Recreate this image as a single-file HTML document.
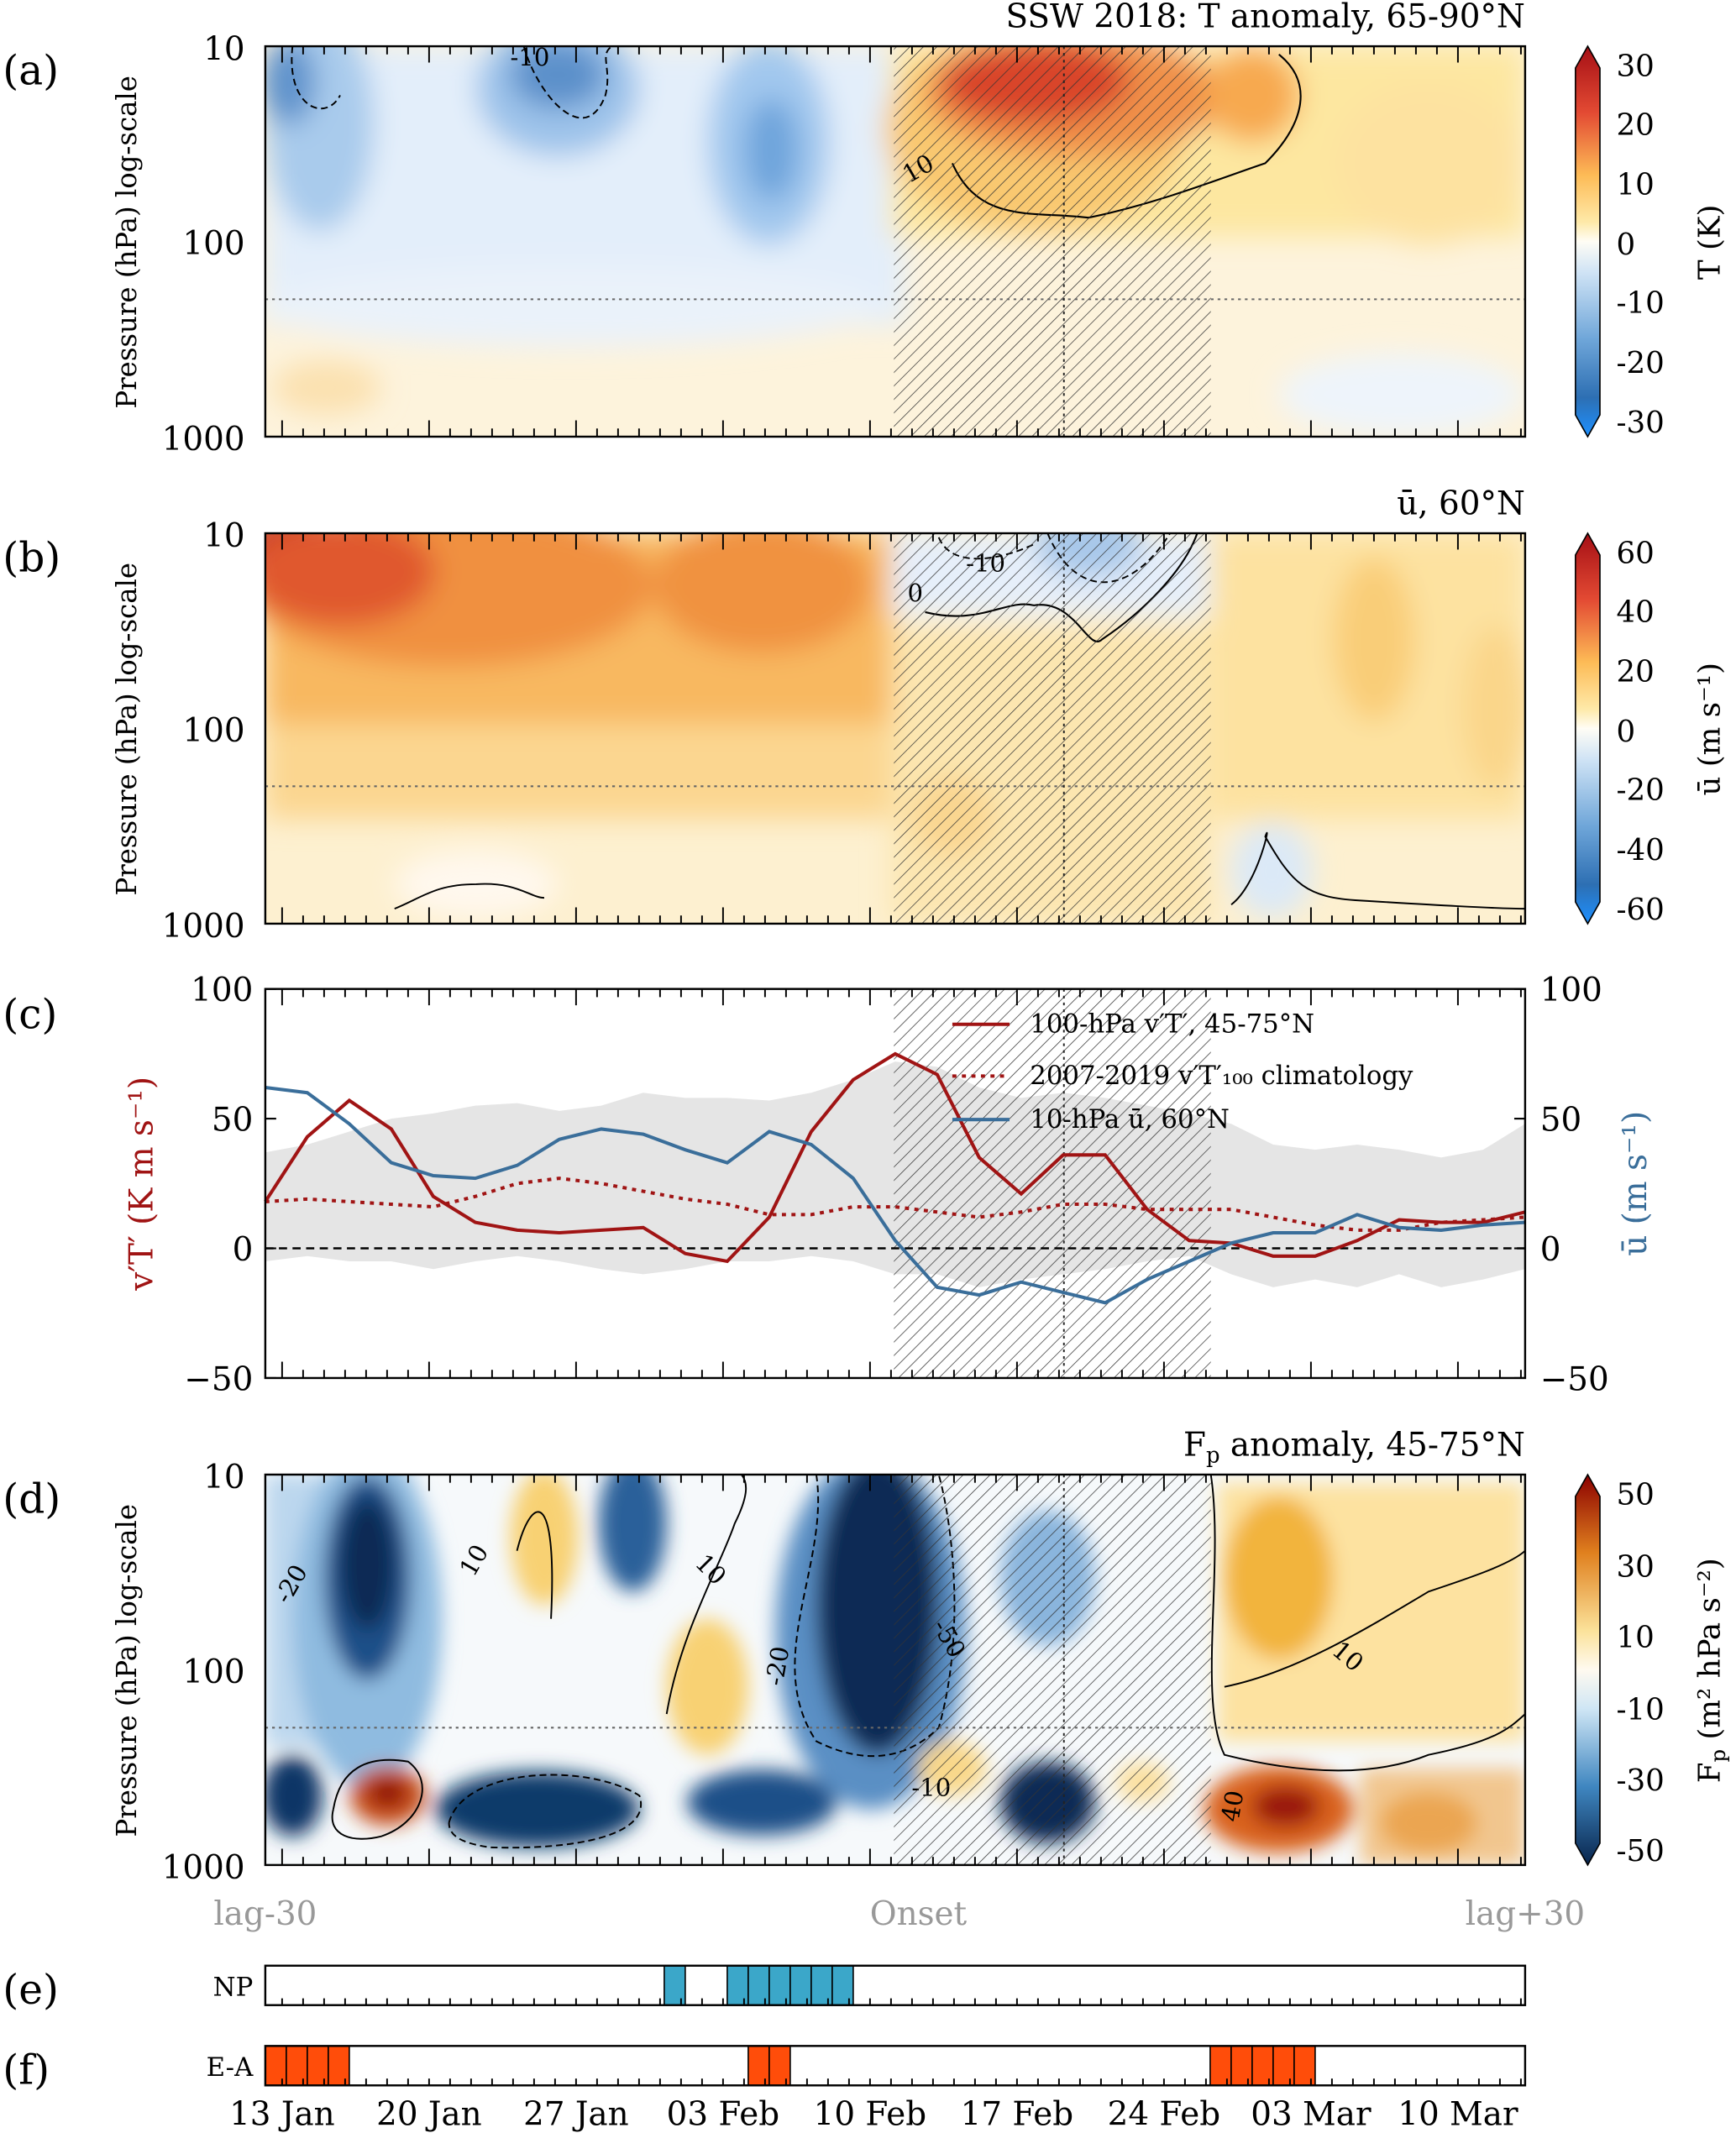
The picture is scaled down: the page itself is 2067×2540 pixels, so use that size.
<!DOCTYPE html>
<html><head><meta charset="utf-8"><style>
html,body{margin:0;padding:0;background:#fff}
svg{display:block}
text{font-family:"DejaVu Serif","Liberation Serif",serif}
</style></head><body>
<svg id="fig" width="2067" height="2540" viewBox="0 0 1276 1568" xmlns="http://www.w3.org/2000/svg">
<defs>
<pattern id="hatch" width="7" height="7" patternUnits="userSpaceOnUse" patternTransform="rotate(45)">
<line x1="0" y1="0" x2="0" y2="7" stroke="#333" stroke-width="0.9"/>
</pattern>
<filter id="blur" x="-50%" y="-50%" width="200%" height="200%"><feGaussianBlur stdDeviation="10"/></filter>
<filter id="blur2" x="-50%" y="-50%" width="200%" height="200%"><feGaussianBlur stdDeviation="7"/></filter>
<clipPath id="ca"><rect x="195" y="34" width="926" height="287"/></clipPath>
<clipPath id="cb"><rect x="195" y="392" width="926" height="287"/></clipPath>
<clipPath id="cd"><rect x="195" y="1084" width="926" height="287"/></clipPath>
<linearGradient id="gT" x1="0" y1="0" x2="0" y2="1">
<stop offset="0" stop-color="#a50f15"/><stop offset="0.17" stop-color="#e34a33"/><stop offset="0.33" stop-color="#fdbb56"/><stop offset="0.45" stop-color="#fee9a8"/><stop offset="0.5" stop-color="#fffdf5"/><stop offset="0.58" stop-color="#cfe3f5"/><stop offset="0.75" stop-color="#6fa6d9"/><stop offset="0.9" stop-color="#2d6fb3"/><stop offset="1" stop-color="#1e90ff"/>
</linearGradient>
<linearGradient id="gF" x1="0" y1="0" x2="0" y2="1">
<stop offset="0" stop-color="#8b0000"/><stop offset="0.2" stop-color="#e0801e"/><stop offset="0.4" stop-color="#fbe29a"/><stop offset="0.5" stop-color="#fffaf0"/><stop offset="0.6" stop-color="#cfe6f5"/><stop offset="0.8" stop-color="#3f86c0"/><stop offset="1" stop-color="#08254d"/>
</linearGradient>
</defs>

<!-- ========== Panel (a) ========== -->
<g>
<text x="2" y="62" font-size="30">(a)</text>
<text x="1121" y="20" font-size="24" text-anchor="end">SSW 2018: T anomaly, 65-90°N</text>
<g clip-path="url(#ca)">
<rect x="195" y="34" width="926" height="287" fill="#fdf3dc"/>
<g filter="url(#blur)">
<rect x="195" y="34" width="470" height="205" fill="#e3eefa"/>
<ellipse cx="420" cy="225" rx="230" ry="30" fill="#eaf2fa"/>
<ellipse cx="235" cy="90" rx="40" ry="80" fill="#a9cbec"/>
<ellipse cx="212" cy="60" rx="20" ry="32" fill="#5f93cc"/>
<ellipse cx="410" cy="65" rx="60" ry="50" fill="#9dc3ea"/>
<ellipse cx="410" cy="55" rx="35" ry="25" fill="#5c90ca"/>
<ellipse cx="565" cy="105" rx="45" ry="75" fill="#a2c8ee"/>
<ellipse cx="567" cy="110" rx="20" ry="38" fill="#6ea4dc"/>
<rect x="655" y="34" width="466" height="140" fill="#fde7a0"/>
<ellipse cx="760" cy="95" rx="110" ry="75" fill="#f9c870"/>
<ellipse cx="790" cy="70" rx="110" ry="45" fill="#f0904a"/>
<ellipse cx="760" cy="60" rx="70" ry="30" fill="#d9452b"/>
<ellipse cx="920" cy="70" rx="35" ry="35" fill="#f7a950"/>
<ellipse cx="1050" cy="120" rx="70" ry="60" fill="#fde2a0"/>
<ellipse cx="1030" cy="290" rx="90" ry="30" fill="#eef4fb"/>
<ellipse cx="240" cy="285" rx="40" ry="20" fill="#fbe1b0"/>
</g>
<path d="M700,120 C720,165 760,155 800,160 C850,150 900,130 930,120 C960,90 965,60 940,40" fill="none" stroke="#000" stroke-width="1.3"/>
<path d="M385,34 C395,70 430,110 445,70 C450,50 440,40 450,34" fill="none" stroke="#000" stroke-width="1.2" stroke-dasharray="5,3"/>
<path d="M215,34 C210,80 240,90 250,70" fill="none" stroke="#000" stroke-width="1.2" stroke-dasharray="5,3"/>
<text x="668" y="135" font-size="18" transform="rotate(-30 668 135)">10</text>
<text x="375" y="48" font-size="18">-10</text>
<rect x="657" y="34" width="233" height="287" fill="url(#hatch)"/>
</g>
<line x1="195" y1="220" x2="1121" y2="220" stroke="#666" stroke-width="1.3" stroke-dasharray="2,3"/>
<line x1="782" y1="34" x2="782" y2="321" stroke="#222" stroke-width="1.2" stroke-dasharray="2,3"/>
<rect x="195" y="34" width="926" height="287" fill="none" stroke="#000" stroke-width="1.5"/>
<g font-size="24" text-anchor="end">
<text x="180" y="44">10</text><text x="180" y="187">100</text><text x="180" y="331">1000</text></g>
<text x="100" y="178" font-size="20" text-anchor="middle" transform="rotate(-90 100 178)">Pressure (hPa) log-scale</text>
<g>
<path d="M1158,50 L1167,34 L1176,50 L1176,305 L1167,321 L1158,305 Z" fill="url(#gT)" stroke="#000" stroke-width="1"/>
<g font-size="22"><text x="1188" y="56">30</text><text x="1188" y="99">20</text><text x="1188" y="143">10</text><text x="1188" y="187">0</text><text x="1188" y="230">-10</text><text x="1188" y="274">-20</text><text x="1188" y="318">-30</text></g>
<text x="1264" y="178" font-size="22" text-anchor="middle" transform="rotate(-90 1264 178)">T (K)</text>
</g>
</g>

<!-- ========== Panel (b) ========== -->
<g>
<text x="2" y="420" font-size="30">(b)</text>
<text x="1121" y="378" font-size="24" text-anchor="end">ū, 60°N</text>
<g clip-path="url(#cb)">
<rect x="195" y="392" width="926" height="287" fill="#fdf0d0"/>
<g filter="url(#blur)">
<rect x="195" y="392" width="460" height="210" fill="#fbd690"/>
<rect x="195" y="392" width="460" height="140" fill="#f8b860"/>
<ellipse cx="330" cy="430" rx="150" ry="60" fill="#f0903f"/>
<ellipse cx="560" cy="430" rx="80" ry="50" fill="#f0923f"/>
<ellipse cx="215" cy="405" rx="40" ry="30" fill="#b8201a"/>
<ellipse cx="250" cy="420" rx="70" ry="40" fill="#e0582f"/>
<rect x="655" y="392" width="235" height="60" fill="#e6effa"/>
<ellipse cx="800" cy="400" rx="40" ry="25" fill="#a8c8ea"/>
<rect x="655" y="460" width="235" height="219" fill="#fce6b0"/>
<ellipse cx="700" cy="600" rx="30" ry="30" fill="#fad690"/>
<rect x="890" y="392" width="231" height="210" fill="#fde2a0"/>
<ellipse cx="1010" cy="470" rx="30" ry="60" fill="#f9cd78"/>
<ellipse cx="1100" cy="520" rx="25" ry="60" fill="#fad68a"/>
<ellipse cx="350" cy="650" rx="60" ry="25" fill="#fff8ee"/>
<ellipse cx="935" cy="640" rx="30" ry="35" fill="#dbe9f7"/>
</g>
<path d="M680,450 C720,460 740,440 760,445 C790,440 800,480 810,470 C840,450 870,420 880,392" fill="none" stroke="#000" stroke-width="1.3"/>
<path d="M690,395 C700,420 740,410 760,400 M770,392 C790,440 830,440 860,392" fill="none" stroke="#000" stroke-width="1.2" stroke-dasharray="5,3"/>
<path d="M290,668 C310,660 320,650 350,650 C380,648 390,660 400,660" fill="none" stroke="#000" stroke-width="1.2"/>
<path d="M905,665 C925,650 935,600 930,615 C950,650 960,660 1000,662 C1050,665 1100,668 1121,668" fill="none" stroke="#000" stroke-width="1.2"/>
<text x="667" y="442" font-size="18">0</text><text x="710" y="420" font-size="18">-10</text>
<rect x="657" y="392" width="233" height="287" fill="url(#hatch)"/>
</g>
<line x1="195" y1="578" x2="1121" y2="578" stroke="#666" stroke-width="1.3" stroke-dasharray="2,3"/>
<line x1="782" y1="392" x2="782" y2="679" stroke="#222" stroke-width="1.2" stroke-dasharray="2,3"/>
<rect x="195" y="392" width="926" height="287" fill="none" stroke="#000" stroke-width="1.5"/>
<g font-size="24" text-anchor="end">
<text x="180" y="402">10</text><text x="180" y="545">100</text><text x="180" y="689">1000</text></g>
<text x="100" y="536" font-size="20" text-anchor="middle" transform="rotate(-90 100 536)">Pressure (hPa) log-scale</text>
<g>
<path d="M1158,408 L1167,392 L1176,408 L1176,663 L1167,679 L1158,663 Z" fill="url(#gT)" stroke="#000" stroke-width="1"/>
<g font-size="22"><text x="1188" y="414">60</text><text x="1188" y="457">40</text><text x="1188" y="501">20</text><text x="1188" y="545">0</text><text x="1188" y="588">-20</text><text x="1188" y="632">-40</text><text x="1188" y="676">-60</text></g>
<text x="1264" y="536" font-size="22" text-anchor="middle" transform="rotate(-90 1264 536)">ū (m s⁻¹)</text>
</g>
</g>

<!-- ========== Panel (c) ========== -->
<g id="panelC">
<text x="2" y="756" font-size="30">(c)</text>
</g>

<!-- ========== Panel (d) ========== -->
<g>
<text x="2" y="1112" font-size="30">(d)</text>
<text x="1121" y="1070" font-size="24" text-anchor="end">F<tspan font-size="16" dy="5">p</tspan><tspan dy="-5"> anomaly, 45-75°N</tspan></text>
<g clip-path="url(#cd)">
<rect x="195" y="1084" width="926" height="287" fill="#f6f9fb"/>
<g filter="url(#blur2)">
<rect x="195" y="1084" width="110" height="200" fill="#bcd7ee"/>
<ellipse cx="270" cy="1190" rx="55" ry="125" fill="#8fbbe0"/>
<ellipse cx="270" cy="1160" rx="32" ry="75" fill="#1d4f88"/>
<ellipse cx="270" cy="1150" rx="20" ry="48" fill="#0b2a55"/>
<ellipse cx="215" cy="1320" rx="22" ry="30" fill="#0e3666"/>
<ellipse cx="285" cy="1320" rx="28" ry="22" fill="#c8501e"/>
<ellipse cx="285" cy="1318" rx="14" ry="10" fill="#8b0000"/>
<ellipse cx="395" cy="1330" rx="75" ry="28" fill="#0f3a6a"/>
<ellipse cx="560" cy="1325" rx="55" ry="24" fill="#1d4f88"/>
<ellipse cx="400" cy="1130" rx="25" ry="50" fill="#f8d173"/>
<ellipse cx="465" cy="1120" rx="25" ry="50" fill="#2a609a"/>
<ellipse cx="520" cy="1240" rx="30" ry="50" fill="#f8d173"/>
<ellipse cx="640" cy="1200" rx="70" ry="130" fill="#5a8fc4"/>
<ellipse cx="645" cy="1180" rx="45" ry="110" fill="#0b2a55"/>
<ellipse cx="770" cy="1160" rx="35" ry="50" fill="#8ab5dd"/>
<ellipse cx="770" cy="1325" rx="35" ry="30" fill="#0b2a55"/>
<ellipse cx="700" cy="1300" rx="25" ry="20" fill="#f9d88a"/>
<ellipse cx="840" cy="1310" rx="20" ry="15" fill="#fbe0a0"/>
<rect x="895" y="1090" width="226" height="190" fill="#fde2a0"/>
<ellipse cx="940" cy="1160" rx="40" ry="60" fill="#f2b43c"/>
<ellipse cx="940" cy="1330" rx="55" ry="32" fill="#d9621c"/>
<ellipse cx="945" cy="1328" rx="25" ry="15" fill="#9a1208"/>
<ellipse cx="1050" cy="1340" rx="35" ry="22" fill="#e08a30"/>
<rect x="1000" y="1300" width="121" height="71" fill="#f0b060" opacity="0.7"/>
</g>
<path d="M600,1084 C610,1150 560,1220 600,1280 C640,1300 670,1290 690,1270 C710,1200 700,1120 690,1084" fill="none" stroke="#000" stroke-width="1.2" stroke-dasharray="5,3"/>
<path d="M890,1084 C900,1150 880,1250 900,1290 C940,1300 1000,1310 1050,1290 C1100,1280 1110,1270 1121,1260" fill="none" stroke="#000" stroke-width="1.2"/>
<path d="M245,1330 C250,1300 270,1290 300,1295 C320,1310 310,1340 280,1350 C260,1355 240,1350 245,1330" fill="none" stroke="#000" stroke-width="1.2"/>
<path d="M330,1340 C340,1300 430,1295 470,1320 C480,1350 420,1360 360,1358 C340,1355 330,1350 330,1340" fill="none" stroke="#000" stroke-width="1.2" stroke-dasharray="5,3"/>
<path d="M380,1140 C390,1100 410,1090 405,1190" fill="none" stroke="#000" stroke-width="1.2"/>
<path d="M490,1260 C500,1200 530,1150 540,1120 C550,1100 550,1090 545,1084" fill="none" stroke="#000" stroke-width="1.2"/>
<path d="M900,1240 C950,1230 1000,1200 1050,1170 C1080,1160 1110,1150 1121,1140" fill="none" stroke="#000" stroke-width="1.2"/>
<g font-size="18"><text x="212" y="1180" transform="rotate(-60 212 1180)">-20</text><text x="348" y="1160" transform="rotate(-60 348 1160)">10</text><text x="510" y="1150" transform="rotate(45 510 1150)">10</text><text x="575" y="1240" transform="rotate(-80 575 1240)">-20</text><text x="685" y="1195" transform="rotate(60 685 1195)">-50</text><text x="978" y="1215" transform="rotate(40 978 1215)">10</text><text x="910" y="1340" transform="rotate(-80 910 1340)">40</text><text x="670" y="1320">-10</text></g>
<rect x="657" y="1084" width="233" height="287" fill="url(#hatch)"/>
</g>
<line x1="195" y1="1270" x2="1121" y2="1270" stroke="#666" stroke-width="1.3" stroke-dasharray="2,3"/>
<line x1="782" y1="1084" x2="782" y2="1371" stroke="#222" stroke-width="1.2" stroke-dasharray="2,3"/>
<rect x="195" y="1084" width="926" height="287" fill="none" stroke="#000" stroke-width="1.5"/>
<g font-size="24" text-anchor="end">
<text x="180" y="1094">10</text><text x="180" y="1237">100</text><text x="180" y="1381">1000</text></g>
<text x="100" y="1228" font-size="20" text-anchor="middle" transform="rotate(-90 100 1228)">Pressure (hPa) log-scale</text>
<g>
<path d="M1158,1100 L1167,1084 L1176,1100 L1176,1355 L1167,1371 L1158,1355 Z" fill="url(#gF)" stroke="#000" stroke-width="1"/>
<g font-size="22"><text x="1188" y="1106">50</text><text x="1188" y="1159">30</text><text x="1188" y="1211">10</text><text x="1188" y="1264">-10</text><text x="1188" y="1316">-30</text><text x="1188" y="1368">-50</text></g>
<text x="1264" y="1228" font-size="22" text-anchor="middle" transform="rotate(-90 1264 1228)">F<tspan font-size="15" dy="4">p</tspan><tspan dy="-4"> (m² hPa s⁻²)</tspan></text>
</g>
<g font-size="24" fill="#999" text-anchor="middle">
<text x="195" y="1415">lag-30</text><text x="675" y="1415">Onset</text><text x="1121" y="1415">lag+30</text></g>
</g>

<!-- ========== Panels (e),(f) ========== -->
<g id="panelEF">
<text x="2" y="1473" font-size="30">(e)</text>
<text x="2" y="1532" font-size="30">(f)</text>
<text x="186" y="1467" font-size="19" text-anchor="end">NP</text>
<text x="186" y="1526" font-size="19" text-anchor="end">E-A</text>
</g>
</svg>

<script>
// Time axis: lag days -30..30, every 2 days
const lags = [-30,-28,-26,-24,-22,-20,-18,-16,-14,-12,-10,-8,-6,-4,-2,0,2,4,6,8,10,12,14,16,18,20,22,24,26,28,30];
const vT = [18,43,57,46,20,10,7,6,7,8,-2,-5,12,45,65,75,67,35,21,36,36,15,3,2,-3,-3,3,11,10,10,14];
const uWind = [62,60,48,33,28,27,32,42,46,44,38,33,45,40,27,3,-15,-18,-13,-17,-21,-12,-5,2,6,6,13,8,7,9,10];
const vTclim = [18,19,18,17,16,20,25,27,25,22,19,17,13,13,16,16,14,12,14,17,17,15,15,15,12,9,7,7,10,11,12];
const climUpper = [37,40,45,50,52,55,56,53,55,60,58,58,57,60,65,72,70,62,58,60,58,55,52,48,40,38,40,38,35,38,48];
const climLower = [-5,-3,-5,-5,-8,-5,-3,-5,-8,-10,-8,-5,-5,-3,-5,-10,-10,-15,-12,-10,-8,-5,-3,-10,-15,-12,-15,-10,-15,-12,-8];
const yTicks = [100,50,0,-50];
const dateLabels = ["13 Jan","20 Jan","27 Jan","03 Feb","10 Feb","17 Feb","24 Feb","03 Mar","10 Mar"];
const dateLags = [-29.2,-22.2,-15.2,-8.2,-1.2,5.8,12.8,19.8,26.8];
// Regime days (lag index of each day box)
const npDays = [-11,-8,-7,-6,-5,-4,-3];
const eaDays = [-30,-29,-28,-27,-7,-6,15,16,17,18,19];

const NS="http://www.w3.org/2000/svg";
const X0=195,X1=1121;
function xs(l){return X0+(l+30)/60*(X1-X0);}
const CT=727,CB=1013;
function ys(v){return CB-(v+50)/150*(CB-CT);}
function mk(tag,attrs,parent){const e=document.createElementNS(NS,tag);for(const k in attrs)e.setAttribute(k,attrs[k]);parent.appendChild(e);return e;}
const pc=document.getElementById('panelC');

let d="M"+lags.map((l,i)=>xs(l)+","+ys(climUpper[i])).join(" L");
for(let i=lags.length-1;i>=0;i--)d+=" L"+xs(lags[i])+","+ys(climLower[i]);
const band=mk('path',{d:d+"Z",fill:"#e5e5e5"},pc);


const hat=mk('rect',{x:657,y:CT,width:233,height:CB-CT,fill:"url(#hatch)"},pc);


mk('line',{x1:X0,x2:X1,y1:ys(0),y2:ys(0),stroke:"#000","stroke-width":1.5,"stroke-dasharray":"6,4"},pc);
mk('line',{x1:782,x2:782,y1:CT,y2:CB,stroke:"#222","stroke-width":1.2,"stroke-dasharray":"2,3"},pc);
function line(arr,color,dash,name){
  const p=mk('path',{d:"M"+lags.map((l,i)=>xs(l)+","+ys(arr[i])).join(" L"),fill:"none",stroke:color,"stroke-width":2.5},pc);
  if(dash)p.setAttribute('stroke-dasharray',dash);
  
  
}
line(vTclim,"#a01414","3,4","vt-climatology-line");
line(vT,"#a01414",null,"vt-100hpa-line");
line(uWind,"#3a6e9a",null,"u-10hpa-line");
const fr=mk('rect',{x:X0,y:CT,width:X1-X0,height:CB-CT,fill:"none",stroke:"#000","stroke-width":1.5},pc);


yTicks.forEach(v=>{
  const t=mk('text',{x:186,y:ys(v)+9,"font-size":24,"text-anchor":"end"},pc);t.textContent=v<0?"\u2212"+(-v):v;
  
  
  const t2=mk('text',{x:1132,y:ys(v)+9,"font-size":24},pc);t2.textContent=v<0?"\u2212"+(-v):v;
  
  
  mk('line',{x1:X0,x2:X0+8,y1:ys(v),y2:ys(v),stroke:"#000","stroke-width":1.3},pc);
  mk('line',{x1:X1-8,x2:X1,y1:ys(v),y2:ys(v),stroke:"#000","stroke-width":1.3},pc);
});
let yt=mk('text',{x:112,y:870,"font-size":24,"text-anchor":"middle",fill:"#a01414",transform:"rotate(-90 112 870)"},pc);
yt.textContent="v\u2032T\u2032 (K m s\u207B\u00B9)";


yt=mk('text',{x:1210,y:870,"font-size":24,"text-anchor":"middle",fill:"#3a6e9a",transform:"rotate(-90 1210 870)"},pc);
yt.textContent="\u016B (m s\u207B\u00B9)";


const leg=mk('g',{},pc);


[["#a01414",null,"100-hPa v\u2032T\u2032, 45-75\u00B0N",759],["#a01414","3,4","2007-2019 v\u2032T\u2032\u2081\u2080\u2080 climatology",797],["#3a6e9a",null,"10-hPa \u016B, 60\u00B0N",829]].forEach(r=>{
  const l=mk('line',{x1:700,x2:742,y1:r[3]-6,y2:r[3]-6,stroke:r[0],"stroke-width":2.5},leg);
  if(r[1])l.setAttribute('stroke-dasharray',r[1]);
  const t=mk('text',{x:757,y:r[3],"font-size":19},leg);t.textContent=r[2];
  
  
});

const fig=document.getElementById('fig');
[[34,321],[392,679],[CT,CB],[1084,1371],[1445,1474],[1504,1533]].forEach(([t,b],pi)=>{
  for(let day=-30;day<=30;day++){
    const x=xs(day+0.8);if(x>X1)continue;
    const major=dateLags.some(dl=>Math.abs(dl-day-0.8)<0.01);
    const len=pi>=4?5:(major?12:6);
    mk('line',{x1:x,x2:x,y1:b,y2:b-len,stroke:"#000","stroke-width":1.2},fig);
    if(pi<4)mk('line',{x1:x,x2:x,y1:t,y2:t+len,stroke:"#000","stroke-width":1.2},fig);
  }
});
const ef=document.getElementById('panelEF');
function regime(days,y,color,name){
  const dw=(X1-X0)/60;
  days.forEach(dl=>{
    const r=mk('rect',{x:xs(dl),y:y,width:dw,height:29,fill:color,stroke:"#000","stroke-width":1},ef);
    
    
  });
  const f=mk('rect',{x:X0,y:y,width:X1-X0,height:29,fill:"none",stroke:"#000","stroke-width":1.5},ef);
  
  
}
regime(npDays,1445,"#3ba7c9","np-regime-day");
regime(eaDays,1504,"#ff4d0a","ea-regime-day");
dateLabels.forEach((s,i)=>{
  const t=mk('text',{x:xs(dateLags[i]),y:1562,"font-size":24,"text-anchor":"middle"},ef);t.textContent=s;
  
  
});
</script>
</body></html>
